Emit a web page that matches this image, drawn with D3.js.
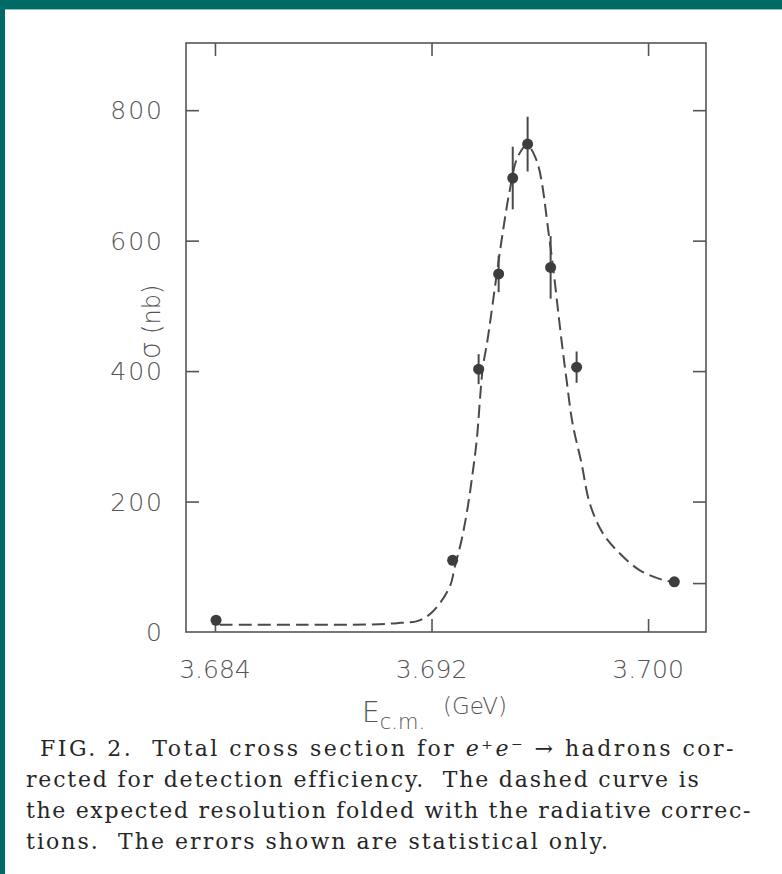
<!DOCTYPE html>
<html>
<head>
<meta charset="utf-8">
<script src="https://cdn.jsdelivr.net/npm/d3@7/dist/d3.min.js"></script>
<style>
  body { margin: 0; background: #fff; }
  svg { display: block; }
  .cap { white-space: pre; }
</style>
</head>
<body>
<script>
//================= data ======================================
var pointE     = [3.68404, 3.69278, 3.69374, 3.69448, 3.69500, 3.69555, 3.69640, 3.69736, 3.70097]
var pointSigma = [18, 110, 403, 549, 696, 748, 559, 406, 77]
var pointErr   = [0, 0, 23, 28, 48, 42, 48, 24, 0]

// dashed curve (resolution folded with radiative corrections)
var curveE     = [3.68418, 3.68714, 3.69009, 3.69083, 3.69150, 3.69204, 3.69267, 3.69286, 3.69311, 3.69334,
                  3.69352, 3.69367, 3.69389, 3.69407, 3.69459, 3.69489, 3.69518, 3.69552, 3.69588, 3.69636,
                  3.69680, 3.69699, 3.69721, 3.69754, 3.69784, 3.69832, 3.69894, 3.69968, 3.70053, 3.70090]
var curveSigma = [11, 11, 12, 14, 17, 31, 69, 100, 141, 192,
                  244, 294, 403, 448, 601, 677, 728, 746, 723, 601,
                  448, 386, 320, 259, 198, 152, 121, 95, 80, 77]

var xTicks = [3.684, 3.692, 3.700]
var yTicks = [200, 400, 600, 800]
var yTicksRight = [75, 200, 400, 600, 800]

var captionLines = [
  ["FIG. 2.  Total cross section for ", "e\u207Ae\u207B", " \u2192 hadrons cor-"],
  ["rected for detection efficiency.  The dashed curve is"],
  ["the expected resolution folded with the radiative correc-"],
  ["tions.  The errors shown are statistical only."]
]
//==============================================================

var W = 782, H = 874
var ink = "#4a4a4a"

var svg = d3.select("body")
            .append("svg")
            .attr("width", W)
            .attr("height", H)

// teal page frame
svg.append("rect").attr("x", 0).attr("y", 0).attr("width", W).attr("height", 9).attr("fill", "#006a66")
svg.append("rect").attr("x", 0).attr("y", 0).attr("width", 5).attr("height", H).attr("fill", "#006a66")
svg.append("rect").attr("x", 5).attr("y", 9).attr("width", W - 5).attr("height", 1).attr("fill", "#8fc4c0")

var x = d3.scaleLinear().domain([3.68293, 3.70214]).range([186, 706])
var y = d3.scaleLinear().domain([0, 903]).range([632, 43])

var plot = svg.append("g")

// frame box
plot.append("rect")
    .attr("x", x.range()[0])
    .attr("y", y.range()[1])
    .attr("width", x.range()[1] - x.range()[0])
    .attr("height", y.range()[0] - y.range()[1])
    .attr("fill", "none")
    .attr("stroke", "#555")
    .attr("stroke-width", 1.6)

// inward ticks on all four sides, done with d3 axes
var tickLen = 13
var bottomAxis = d3.axisTop(x).tickValues(xTicks).tickSize(tickLen).tickFormat("")
var topAxis = d3.axisBottom(x).tickValues(xTicks).tickSize(tickLen).tickFormat("")
var leftAxis = d3.axisRight(y).tickValues(yTicks).tickSize(tickLen).tickFormat("")
var rightAxis = d3.axisLeft(y).tickValues(yTicksRight).tickSize(tickLen).tickFormat("")

plot.append("g").attr("transform", "translate(0," + y.range()[0] + ")").call(bottomAxis)
plot.append("g").attr("transform", "translate(0," + y.range()[1] + ")").call(topAxis)
plot.append("g").attr("transform", "translate(" + x.range()[0] + ",0)").call(leftAxis)
plot.append("g").attr("transform", "translate(" + x.range()[1] + ",0)").call(rightAxis)
plot.selectAll(".domain").remove()
plot.selectAll(".tick line").attr("stroke", "#555").attr("stroke-width", 1.6)

// tick labels
var labelFont = "'DejaVu Sans', sans-serif"
plot.selectAll(".xlab")
    .data(xTicks)
    .enter()
    .append("text")
    .attr("x", function(d){ return x(d) })
    .attr("y", 678)
    .attr("text-anchor", "middle")
    .attr("font-family", labelFont)
    .attr("font-size", 25)
    .attr("font-weight", 300)
    .attr("fill", "#555")
    .text(function(d){ return d.toFixed(3) })

plot.selectAll(".ylab")
    .data([0].concat(yTicks))
    .enter()
    .append("text")
    .attr("x", 164)
    .attr("y", function(d){ return y(d) + 9 })
    .attr("text-anchor", "end")
    .attr("font-family", labelFont)
    .attr("font-size", 25)
    .attr("font-weight", 300)
    .attr("letter-spacing", 2)
    .attr("fill", "#555")
    .text(function(d){ return d })

// axis titles
var ylab = svg.append("text")
    .attr("transform", "translate(160,322) rotate(-90)")
    .attr("text-anchor", "middle")
    .attr("font-family", labelFont)
    .attr("font-size", 24)
    .attr("font-weight", 300)
    .attr("fill", "#555")
ylab.append("tspan").attr("font-size", 28).text("\u03C3")
ylab.append("tspan").text(" (nb)")

var xlab = svg.append("text")
    .attr("x", 362)
    .attr("y", 722)
    .attr("font-family", labelFont)
    .attr("font-weight", 300)
    .attr("fill", "#555")
xlab.append("tspan").attr("font-size", 28).text("E")
xlab.append("tspan").attr("font-size", 21).attr("dy", 7).text("c.m.")
xlab.append("tspan").attr("font-size", 23).attr("dx", 18).attr("dy", -15).text("(GeV)")

// dashed curve
var line = d3.line()
             .x(function(d){ return x(d[0]) })
             .y(function(d){ return y(d[1]) })
             .curve(d3.curveCatmullRom.alpha(0.5))

plot.append("path")
    .datum(d3.zip(curveE, curveSigma))
    .attr("d", line)
    .attr("fill", "none")
    .attr("stroke", ink)
    .attr("stroke-width", 2)
    .attr("stroke-dasharray", "13,6")

// error bars
var pts = d3.range(pointE.length).map(function(i){
  return { e: pointE[i], s: pointSigma[i], err: pointErr[i] }
})

plot.selectAll(".err")
    .data(pts.filter(function(d){ return d.err > 0 }))
    .enter()
    .append("line")
    .attr("x1", function(d){ return x(d.e) })
    .attr("x2", function(d){ return x(d.e) })
    .attr("y1", function(d){ return y(d.s - d.err) })
    .attr("y2", function(d){ return y(d.s + d.err) })
    .attr("stroke", ink)
    .attr("stroke-width", 2)

// data points
plot.selectAll(".pt")
    .data(pts)
    .enter()
    .append("circle")
    .attr("cx", function(d){ return x(d.e) })
    .attr("cy", function(d){ return y(d.s) })
    .attr("r", 5.5)
    .attr("fill", "#3d3d3d")

// caption
var capX = [40, 26, 26, 26]
var capRight = [736, 700, 752, 610]
var capBase = [756, 787, 818, 849]

captionLines.forEach(function(parts, i){
  var t = svg.append("text")
             .attr("class", "cap")
             .attr("x", capX[i])
             .attr("y", capBase[i])
             .attr("font-family", "'DejaVu Serif', serif")
             .attr("font-size", 22)
             .attr("fill", "#262626")
  parts.forEach(function(p, j){
    var sp = t.append("tspan").text(p)
    if (parts.length > 1 && j == 1) sp.attr("font-style", "italic")
  })
  // stretch letter spacing so each line ends where it does in the scan
  var nChars = parts.join("").length
  var w = t.node().getComputedTextLength()
  var target = capRight[i] - capX[i]
  t.attr("letter-spacing", (target - w) / nChars)
})
</script>
</body>
</html>
